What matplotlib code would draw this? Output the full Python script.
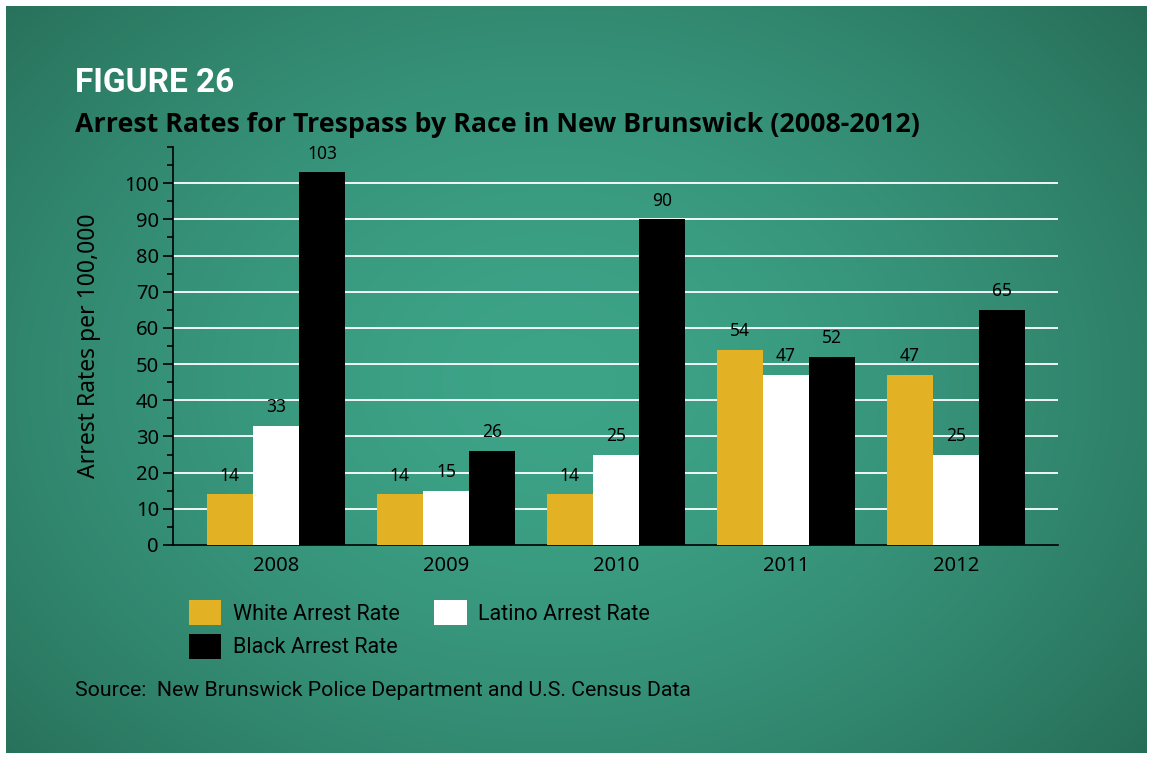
import numpy as np
import matplotlib
matplotlib.use('Agg')
import matplotlib.pyplot as plt
from matplotlib.patches import Patch
from matplotlib.ticker import MultipleLocator

# Trespass arrest rates per 100,000 by year and race
years = ['2008', '2009', '2010', '2011', '2012']
white_rate = [14, 14, 14, 54, 47]
latino_rate = [33, 15, 25, 47, 25]
black_rate = [103, 26, 90, 52, 65]
series_names = ['White Arrest Rate', 'Latino Arrest Rate', 'Black Arrest Rate']
series_colors = ['#e3b124', '#ffffff', '#000000']

W, H = 1153, 759
fig = plt.figure(figsize=(W / 100, H / 100), dpi=100, facecolor='white')

# teal panel with a soft radial glow
bg = fig.add_axes([6 / W, 6 / H, (W - 12) / W, (H - 12) / H], zorder=0)
yy, xx = np.mgrid[0:300, 0:460]
r = np.sqrt(((xx - 220) / 300.0) ** 2 + ((yy - 150) / 230.0) ** 2)
r = np.clip(r, 0, 1.25) ** 1.6
inner = np.array([61, 164, 136]) / 255
outer = np.array([40, 112, 90]) / 255
img = inner[None, None, :] + (outer - inner)[None, None, :] * r[..., None]
img = np.clip(img, 0, 1)
bg.imshow(img, aspect='auto', extent=[0, 1, 0, 1], interpolation='bicubic')
bg.set_axis_off()

ax = fig.add_axes([173 / W, 1 - 545 / H, (1058 - 173) / W, (545 - 147) / H], zorder=1)
ax.patch.set_alpha(0)

x = np.arange(len(years))
bw = 0.272
all_rates = [white_rate, latino_rate, black_rate]
for i, (vals, col, name) in enumerate(zip(all_rates, series_colors, series_names)):
    pos = x + (i - 1) * bw
    ax.bar(pos, vals, width=bw, color=col, zorder=3, label=name)
    for px, v in zip(pos, vals):
        ax.annotate(str(v), (px, v), xytext=(0, 7), textcoords='offset points',
                    ha='center', va='bottom', fontsize=12.5, color='black',
                    family='Noto Sans', zorder=4)

ax.set_xlim(-0.606, 4.6)
ax.set_ylim(0, 110)
ax.yaxis.set_major_locator(MultipleLocator(10))
ax.yaxis.set_minor_locator(MultipleLocator(5))
ax.set_yticks(np.arange(0, 101, 10))
for yv in range(10, 101, 10):
    ax.axhline(yv, color='white', lw=1.3, zorder=1)

for s in ['top', 'right']:
    ax.spines[s].set_visible(False)
ax.spines['left'].set_linewidth(1.2)
ax.spines['bottom'].set_linewidth(1.2)
ax.set_xticks(x)
ax.set_xticklabels(years)
ax.tick_params(axis='x', length=0, pad=8, labelsize=14.5)
ax.tick_params(axis='y', which='major', length=7, width=1.2, labelsize=14.5, pad=3)
ax.tick_params(axis='y', which='minor', length=4, width=1.2)
for lab in ax.get_xticklabels() + ax.get_yticklabels():
    lab.set_family('Noto Sans')
ax.set_ylabel('Arrest Rates per 100,000', fontsize=16.5, family='Noto Sans', labelpad=17)

fig.text(75 / W, 1 - 83 / H, 'FIGURE 26', color='white', fontsize=24,
         fontweight='bold', family='Roboto', va='center', ha='left')
fig.text(75 / W, 1 - 125 / H,
         'Arrest Rates for Trespass by Race in New Brunswick (2008-2012)',
         color='black', fontsize=19.3, fontweight='bold', family='Open Sans',
         va='center', ha='left')

# two-column legend: White / Black in the first column, Latino in the second
order = [0, 2, 1]
handles = [Patch(facecolor=series_colors[k], edgecolor='none') for k in order]
labels = [series_names[k] for k in order]
leg = fig.legend(handles, labels, ncol=2, loc='upper left',
                 bbox_to_anchor=(189 / W, 1 - 600 / H), frameon=False,
                 prop={'family': 'Roboto', 'size': 15.5},
                 handlelength=1.5, handleheight=1.4, handletextpad=0.55,
                 columnspacing=1.6, labelspacing=0.42, borderpad=0,
                 borderaxespad=0)

fig.text(75 / W, 1 - 690 / H,
         'Source:  New Brunswick Police Department and U.S. Census Data',
         color='black', fontsize=15.3, family='Roboto', va='center', ha='left')

fig.savefig('out.png', dpi=100, facecolor='white')
